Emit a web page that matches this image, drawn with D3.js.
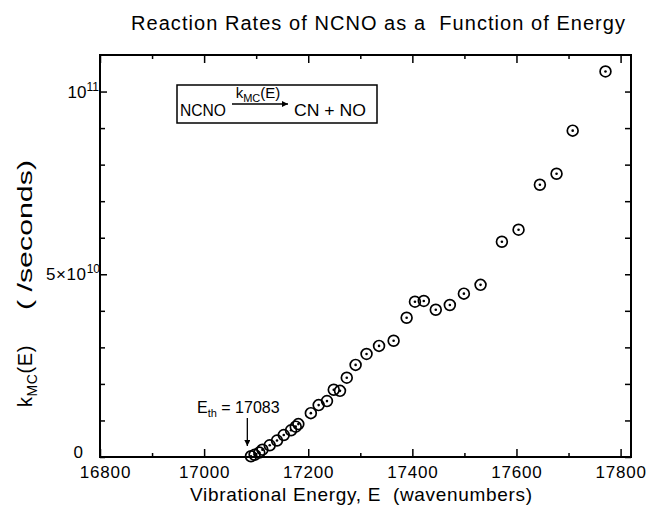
<!DOCTYPE html>
<html>
<head>
<meta charset="utf-8">
<script src="https://cdn.jsdelivr.net/npm/d3@7"></script>
<style>
body { margin: 0; background: white; overflow: hidden; }
svg { display: block; }
svg text { font-family: "Liberation Sans", Arial, sans-serif; fill: black; white-space: pre; }
</style>
</head>
<body>
<svg></svg>
<script>
var w = 648
var h = 509

// vibrational energy (wavenumbers) and k_MC(E) in units of 1e10 /s
var energy = [17090, 17097, 17106, 17112, 17126, 17140, 17153, 17167, 17176, 17181,
              17205, 17220, 17236, 17249, 17261, 17274, 17291, 17312, 17336, 17364,
              17389, 17405, 17422, 17445, 17472, 17499, 17531, 17572, 17604, 17645,
              17677, 17708, 17771]
var rate = [0.02, 0.06, 0.12, 0.2, 0.32, 0.45, 0.6, 0.73, 0.83, 0.9,
            1.2, 1.42, 1.53, 1.84, 1.81, 2.17, 2.52, 2.82, 3.04, 3.18,
            3.81, 4.25, 4.27, 4.03, 4.16, 4.47, 4.71, 5.89, 6.22, 7.45,
            7.75, 8.93, 10.55]

var xTicks = [16800, 17000, 17200, 17400, 17600, 17800]
var yTicks = [0, 5, 10]
var eThreshold = 17083

var svg = d3.select("svg")
	.attr("width", w)
	.attr("height", h)

var x = d3.scaleLinear().domain([16800, 17820]).range([100, 631])
var y = d3.scaleLinear().domain([0, 11]).range([457, 55])

// frame
svg.append("rect")
	.attr("x", 100).attr("y", 55)
	.attr("width", 531).attr("height", 402)
	.attr("fill", "none")
	.attr("stroke", "black")
	.attr("stroke-width", 2)

var minorX = d3.range(16800, 17801, 100)
var minorY = d3.range(0, 11, 1)

function isMajorX(d){ return xTicks.indexOf(d) >= 0 }

var bottomAx = svg.append("g")
	.attr("transform", "translate(0,457)")
	.call(d3.axisBottom(x).tickValues(minorX).tickSizeOuter(0).tickSizeInner(-7).tickPadding(9)
		.tickFormat(function(d){ return isMajorX(d) ? d : "" }))
bottomAx.select(".domain").remove()
bottomAx.selectAll(".tick line")
	.attr("y2", function(d){ return isMajorX(d) ? -8 : -4 })
	.attr("stroke-width", 1.5)
bottomAx.selectAll("text")
	.attr("font-size", 17)
	.style("font-family", "Liberation Sans, Arial, sans-serif")
	.attr("letter-spacing", 0.8)
	.attr("x", function(d){ return d == 16800 ? 5 : 0 })

var topAx = svg.append("g")
	.attr("transform", "translate(0,55)")
	.call(d3.axisTop(x).tickValues(minorX).tickSizeOuter(0).tickSizeInner(-7).tickFormat(""))
topAx.select(".domain").remove()
topAx.selectAll(".tick line")
	.attr("y2", function(d){ return isMajorX(d) ? 8 : 4 })
	.attr("stroke-width", 1.5)

var leftAx = svg.append("g")
	.attr("transform", "translate(100,0)")
	.call(d3.axisLeft(y).tickValues(minorY).tickSizeOuter(0).tickSizeInner(-6).tickFormat(""))
leftAx.select(".domain").remove()
leftAx.selectAll(".tick line")
	.attr("x2", function(d){ return d % 5 == 0 && d > 0 ? 7 : 5 })
	.attr("stroke-width", 1.5)

var rightAx = svg.append("g")
	.attr("transform", "translate(631,0)")
	.call(d3.axisRight(y).tickValues(minorY).tickSizeOuter(0).tickSizeInner(-6).tickFormat(""))
rightAx.select(".domain").remove()
rightAx.selectAll(".tick line").attr("stroke-width", 1.5)

// y tick labels with superscripts
var yLab = svg.append("g")
yTicks.forEach(function(v){
	var t = yLab.append("text")
		.attr("text-anchor", "end")
		.attr("font-size", 17)
		.attr("y", y(v) + 6)
	if (v == 0) {
		t.attr("x", 83).attr("y", y(v) + 1)
		t.text("0")
	} else if (v == 5) {
		t.attr("x", 100)
		t.append("tspan").attr("font-size", 17).attr("letter-spacing", 0.6).text("5\u00d710")
		t.append("tspan").attr("font-size", 12).attr("dy", -7).text("10")
	} else {
		t.attr("x", 99)
		t.append("tspan").attr("font-size", 17).text("10")
		t.append("tspan").attr("font-size", 12).attr("dy", -7).text("11")
	}
})

// data points
var pts = energy.map(function(e, i){ return {e: e, k: rate[i]} })
svg.selectAll(".pt")
	.data(pts)
	.join("circle")
	.attr("class", "pt")
	.attr("cx", function(d){ return x(d.e) })
	.attr("cy", function(d){ return y(d.k) })
	.attr("r", 5.4)
	.attr("fill", "none")
	.attr("stroke", "black")
	.attr("stroke-width", 1.7)
svg.selectAll(".dot")
	.data(pts)
	.join("circle")
	.attr("class", "dot")
	.attr("cx", function(d){ return x(d.e) })
	.attr("cy", function(d){ return y(d.k) })
	.attr("r", 1.3)
	.attr("fill", "black")

// arrowhead
var defs = svg.append("defs")
defs.append("marker")
	.attr("id", "head")
	.attr("viewBox", "0 0 10 10")
	.attr("refX", 10).attr("refY", 5)
	.attr("markerWidth", 8).attr("markerHeight", 6)
	.attr("markerUnits", "userSpaceOnUse")
	.attr("orient", "auto")
	.append("path")
	.attr("d", "M0,0L10,5L0,10Z")
	.attr("fill", "black")

// reaction box
svg.append("rect")
	.attr("x", 177).attr("y", 85)
	.attr("width", 200).attr("height", 38)
	.attr("fill", "white")
	.attr("stroke", "black")
	.attr("stroke-width", 1.5)
svg.append("text").attr("x", 180).attr("y", 116).attr("font-size", 17)
	.attr("textLength", 46).attr("lengthAdjust", "spacingAndGlyphs").text("NCNO")
svg.append("line")
	.attr("x1", 232).attr("x2", 288)
	.attr("y1", 104).attr("y2", 104)
	.attr("stroke", "black").attr("stroke-width", 1.3)
	.attr("marker-end", "url(#head)")
var kt = svg.append("text").attr("x", 258).attr("y", 98).attr("font-size", 15).attr("text-anchor", "middle")
kt.append("tspan").attr("font-size", 15).text("k")
kt.append("tspan").attr("font-size", 11).attr("dy", 4).text("MC")
kt.append("tspan").attr("font-size", 15).attr("dy", -4).text("(E)")
svg.append("text").attr("x", 294).attr("y", 116).attr("font-size", 17)
	.attr("textLength", 72).attr("lengthAdjust", "spacingAndGlyphs").text("CN + NO")

// threshold annotation
var et = svg.append("text").attr("x", 197).attr("y", 413).attr("font-size", 16)
et.append("tspan").attr("font-size", 16).text("E")
et.append("tspan").attr("font-size", 11).attr("dy", 4).text("th")
et.append("tspan").attr("font-size", 16).attr("dy", -4).text(" = 17083")
svg.append("line")
	.attr("x1", x(eThreshold)).attr("x2", x(eThreshold))
	.attr("y1", 418).attr("y2", 446)
	.attr("stroke", "black").attr("stroke-width", 1.3)
	.attr("marker-end", "url(#head)")

// axis titles
svg.append("text")
	.attr("x", 361).attr("y", 501)
	.attr("text-anchor", "middle")
	.attr("font-size", 19)
	.attr("textLength", 342).attr("lengthAdjust", "spacing")
	.text("Vibrational Energy, E  (wavenumbers)")

var yt = svg.append("text")
	.attr("transform", "translate(32,407) rotate(-90)")
	.attr("font-size", 20)
	.attr("letter-spacing", 0.6)
yt.append("tspan").attr("font-size", 20).text("k")
yt.append("tspan").attr("font-size", 14).attr("dy", 5).text("MC")
yt.append("tspan").attr("font-size", 20).attr("dy", -5).text("(E)")
svg.append("text")
	.attr("transform", "translate(32,235) rotate(-90)")
	.attr("text-anchor", "middle")
	.attr("font-size", 20)
	.attr("textLength", 150).attr("lengthAdjust", "spacingAndGlyphs")
	.text("( /seconds)")

svg.append("text")
	.attr("x", 378).attr("y", 30)
	.attr("text-anchor", "middle")
	.attr("font-size", 20)
	.attr("textLength", 494).attr("lengthAdjust", "spacing")
	.text("Reaction Rates of NCNO as a  Function of Energy")
</script>
</body>
</html>
